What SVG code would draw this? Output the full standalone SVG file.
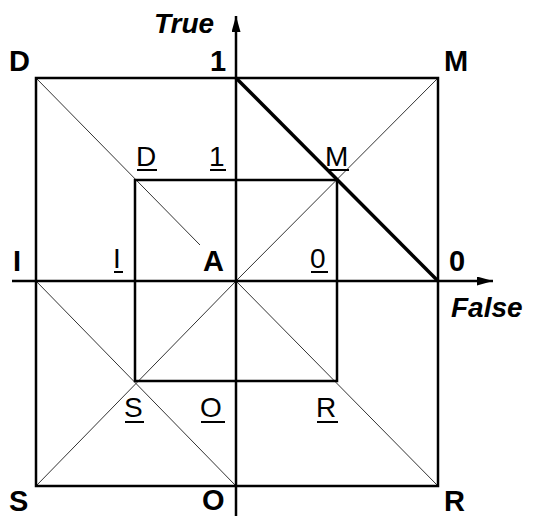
<svg xmlns="http://www.w3.org/2000/svg" width="533" height="516" viewBox="0 0 533 516">
<style>
.sq{fill:none;stroke:#000;stroke-width:2.5}
.ax{stroke:#000;stroke-width:2.5;fill:none}
.thin{stroke:#333;stroke-width:1;fill:none}
.thick{stroke:#000;stroke-width:3.5;fill:none}
.b{font-family:"Liberation Sans",Arial,sans-serif;font-weight:bold;font-size:29px;fill:#000}
.r{font-family:"Liberation Sans",Arial,sans-serif;font-size:28px;fill:#000}
.ul{fill:#000}
.it{font-family:"Liberation Sans",Arial,sans-serif;font-weight:bold;font-style:italic;font-size:28px;fill:#000}
</style>
<defs>
<marker id="arr" markerWidth="16" markerHeight="9" refX="16" refY="4.5" orient="auto" markerUnits="userSpaceOnUse">
<path d="M0,0 L16,4.5 L0,9 Z" fill="#000"/>
</marker>
</defs>
<rect width="533" height="516" fill="#fff"/>
<g id="connectors">
<line class="thin" x1="36" y1="78" x2="200" y2="245"/>
<line class="thin" x1="438" y1="78" x2="236" y2="281"/>
<line class="thin" x1="36" y1="486" x2="236" y2="281"/>
<line class="thin" x1="438" y1="486" x2="236" y2="281"/>
<line class="thin" x1="36" y1="281" x2="236" y2="486"/>
<rect id="outer" class="sq" x="36" y="78" width="402" height="408"/>
<rect id="inner" class="sq" x="135" y="180" width="202" height="201"/>
<line class="ax" x1="12" y1="281" x2="493" y2="281" marker-end="url(#arr)"/>
<line class="ax" x1="236" y1="516" x2="236" y2="16" marker-end="url(#arr)"/>
<line class="thick" x1="236" y1="78" x2="438" y2="281"/>
</g>
<g id="n-D"><text class="b" x="9" y="71">D</text></g>
<g id="n-1"><text class="b" x="210" y="71">1</text></g>
<g id="n-M"><text class="b" x="444" y="71">M</text></g>
<g id="n-True"><text class="it" x="154" y="33">True</text></g>
<g id="n-Du"><text class="r" x="136" y="166">D</text><rect class="ul" x="137" y="169" width="20" height="2"/></g>
<g id="n-1u"><text class="r" x="209" y="166">1</text><rect class="ul" x="210" y="169" width="16" height="2"/></g>
<g id="n-Mu"><text class="r" x="325" y="166">M</text><rect class="ul" x="326" y="169" width="23" height="2"/></g>
<g id="n-I"><text class="b" x="13" y="271">I</text></g>
<g id="n-Iu"><text class="r" x="113" y="268">I</text><rect class="ul" x="114" y="271" width="9" height="2"/></g>
<g id="n-A"><text class="b" x="203" y="271">A</text></g>
<g id="n-0u"><text class="r" x="310" y="268">0</text><rect class="ul" x="311" y="271" width="17" height="2"/></g>
<g id="n-0"><text class="b" x="449" y="271">0</text></g>
<g id="n-False"><text class="it" x="451" y="317">False</text></g>
<g id="n-Su"><text class="r" x="124" y="417">S</text><rect class="ul" x="125" y="421" width="19" height="2"/></g>
<g id="n-Ou"><text class="r" x="200" y="417">O</text><rect class="ul" x="201" y="421" width="24" height="2"/></g>
<g id="n-Ru"><text class="r" x="316" y="417">R</text><rect class="ul" x="317" y="421" width="21" height="2"/></g>
<g id="n-S"><text class="b" x="9" y="511">S</text></g>
<g id="n-O"><text class="b" x="202" y="510">O</text></g>
<g id="n-R"><text class="b" x="444" y="511">R</text></g>
</svg>
